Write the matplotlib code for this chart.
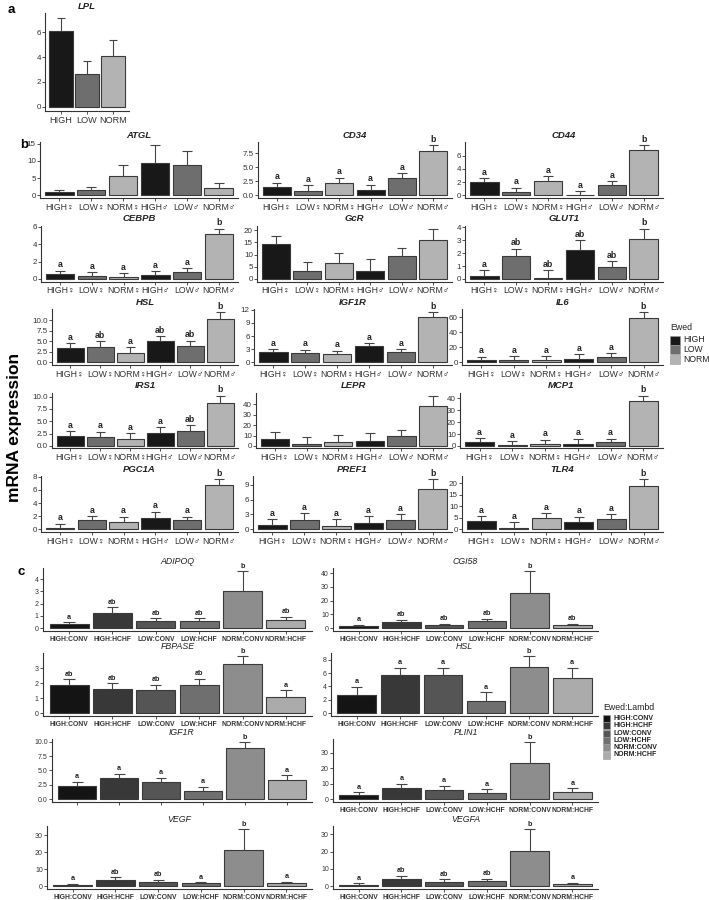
import matplotlib
matplotlib.use("Agg")
import matplotlib.pyplot as plt
from matplotlib.patches import Rectangle

plt.rcParams['font.family'] = ['Liberation Sans', 'DejaVu Sans']

# ---- data ----
# panel a
lpl_groups = ['HIGH', 'LOW', 'NORM']
lpl_mean = [6.1, 2.6, 4.1]
lpl_err = [1.05, 1.1, 1.3]

# panel b
b_groups = ['HIGH♀', 'LOW♀', 'NORM♀', 'HIGH♂', 'LOW♂', 'NORM♂']
b_levels = ['HIGH', 'LOW', 'NORM']
b_genes = ['ATGL', 'CD34', 'CD44', 'CEBPB', 'GcR', 'GLUT1', 'HSL', 'IGF1R',
           'IL6', 'IRS1', 'LEPR', 'MCP1', 'PGC1A', 'PREF1', 'TLR4']
b_mean = [
    [1.15, 1.5, 5.6, 9.5, 8.7, 2.2],
    [1.5, 0.83, 2.26, 1.0, 3.1, 7.85],
    [2.0, 0.57, 2.25, 0.1, 1.57, 6.8],
    [0.58, 0.39, 0.27, 0.5, 0.85, 5.2],
    [14.3, 3.3, 6.7, 3.4, 9.5, 15.9],
    [0.2, 1.77, 0.1, 2.25, 0.93, 3.12],
    [3.5, 3.7, 2.2, 5.0, 3.9, 10.3],
    [2.35, 2.1, 1.97, 3.65, 2.35, 10.3],
    [3.0, 2.7, 3.0, 5.0, 6.7, 58.7],
    [2.08, 1.74, 1.47, 2.6, 3.07, 8.7],
    [6.8, 2.0, 3.5, 4.5, 9.4, 38.7],
    [3.7, 1.1, 2.0, 1.7, 3.2, 37.5],
    [0.26, 1.4, 1.2, 1.8, 1.4, 6.7],
    [0.9, 1.8, 0.7, 1.2, 1.9, 8.2],
    [3.8, 0.7, 4.8, 3.3, 4.5, 18.7],
]
b_err = [
    [0.45, 0.9, 3.1, 5.1, 4.3, 1.45],
    [0.76, 0.97, 0.94, 0.9, 0.9, 1.15],
    [0.6, 0.63, 0.65, 0.58, 0.63, 0.8],
    [0.39, 0.38, 0.39, 0.39, 0.39, 0.6],
    [3.4, 3.5, 4.0, 4.6, 3.3, 4.8],
    [0.46, 0.56, 0.56, 0.75, 0.47, 0.78],
    [1.15, 1.4, 1.45, 1.2, 1.25, 1.7],
    [0.75, 0.8, 0.73, 0.75, 0.75, 1.2],
    [4.5, 5.3, 5.4, 5.7, 5.7, 8.0],
    [0.92, 1.13, 1.13, 1.2, 1.13, 1.5],
    [6.4, 6.7, 7.5, 7.5, 6.1, 9.7],
    [2.9, 3.2, 3.4, 4.3, 2.8, 4.8],
    [0.64, 0.65, 0.75, 0.9, 0.55, 0.9],
    [1.1, 1.4, 1.3, 1.4, 1.1, 1.9],
    [2.1, 2.6, 2.4, 2.2, 2.2, 3.2],
]
b_letters = [
    None,
    ['a', 'a', 'a', 'a', 'a', 'b'],
    ['a', 'a', 'a', 'a', 'a', 'b'],
    ['a', 'a', 'a', 'a', 'a', 'b'],
    None,
    ['a', 'ab', 'ab', 'ab', 'ab', 'b'],
    ['a', 'ab', 'a', 'ab', 'ab', 'b'],
    ['a', 'a', 'a', 'a', 'a', 'b'],
    ['a', 'a', 'a', 'a', 'a', 'b'],
    ['a', 'a', 'a', 'a', 'ab', 'b'],
    None,
    ['a', 'a', 'a', 'a', 'a', 'b'],
    ['a', 'a', 'a', 'a', 'a', 'b'],
    ['a', 'a', 'a', 'a', 'a', 'b'],
    ['a', 'a', 'a', 'a', 'a', 'b'],
]
b_ticks = [
    [0, 5, 10, 15], [0, 2.5, 5, 7.5], [0, 2, 4, 6], [0, 2, 4, 6],
    [0, 5, 10, 15, 20], [0, 1, 2, 3, 4], [0, 2.5, 5, 7.5, 10], [0, 3, 6, 9, 12],
    [0, 20, 40, 60], [0, 2.5, 5, 7.5, 10], [0, 10, 20, 30, 40], [0, 10, 20, 30, 40],
    [0, 2, 4, 6, 8], [0, 3, 6, 9], [0, 5, 10, 15, 20],
]

# panel c
c_groups = ['HIGH:CONV', 'HIGH:HCHF', 'LOW:CONV', 'LOW:HCHF', 'NORM:CONV', 'NORM:HCHF']
c_genes = ['ADIPOQ', 'CGI58', 'FBPASE', 'HSL', 'IGF1R', 'PLIN1', 'VEGF', 'VEGFA']
c_mean = [
    [0.32, 1.24, 0.55, 0.58, 3.03, 0.63],
    [1.6, 4.2, 2.1, 4.9, 25.2, 2.1],
    [1.9, 1.64, 1.53, 1.88, 3.3, 1.08],
    [2.73, 5.65, 5.65, 1.8, 6.95, 5.3],
    [2.27, 3.64, 3.07, 1.42, 8.86, 3.35],
    [2.7, 6.9, 6.1, 4.2, 23.7, 4.6],
    [0.96, 3.4, 2.7, 1.7, 21.6, 1.7],
    [0.93, 4.3, 2.6, 2.8, 20.3, 1.3],
]
c_err = [
    [0.15, 0.46, 0.24, 0.21, 1.6, 0.32],
    [1.0, 1.9, 1.2, 1.9, 16.0, 1.0],
    [0.37, 0.36, 0.35, 0.41, 0.48, 0.43],
    [1.2, 1.15, 1.15, 1.3, 1.55, 1.5],
    [0.8, 0.79, 0.68, 0.78, 1.04, 0.85],
    [1.7, 3.2, 2.7, 2.1, 13.0, 2.3],
    [0.34, 1.8, 1.1, 0.6, 12.0, 0.8],
    [0.77, 1.8, 1.5, 1.5, 12.5, 0.7],
]
c_letters = [
    ['a', 'ab', 'ab', 'ab', 'b', 'ab'],
    ['a', 'ab', 'ab', 'ab', 'b', 'ab'],
    ['ab', 'ab', 'ab', 'ab', 'b', 'a'],
    ['a', 'a', 'a', 'a', 'b', 'a'],
    ['a', 'a', 'a', 'a', 'b', 'a'],
    ['a', 'a', 'a', 'a', 'b', 'a'],
    ['a', 'ab', 'ab', 'a', 'b', 'a'],
    ['a', 'ab', 'ab', 'ab', 'b', 'a'],
]
c_ticks = [
    [0, 1, 2, 3, 4], [0, 10, 20, 30, 40], [0, 1, 2, 3], [0, 2, 4, 6, 8],
    [0, 2.5, 5, 7.5, 10], [0, 10, 20, 30], [0, 10, 20, 30], [0, 10, 20, 30],
]

# ---- styles ----
lvl_colors = {'HIGH': '#181818', 'LOW': '#6e6e6e', 'NORM': '#b3b3b3'}
c_colors = ['#141414', '#383838', '#555555', '#6f6f6f', '#8d8d8d', '#ababab']
edge = '#3a3a3a'
txt = '#333333'

W, H = 709, 900
fig = plt.figure(figsize=(7.09, 9.0), dpi=100)


def add_ax(x0, y0, x1, y1):
    return fig.add_axes([x0 / W, 1 - y1 / H, (x1 - x0) / W, (y1 - y0) / H])


def bar_panel(ax, labels, mean, err, colors, ticks, letters, title,
              title_fs, title_w, tick_fs, ytick_fs, lab_w, let_fs, cap,
              show_x=True):
    x = list(range(1, len(mean) + 1))
    ax.bar(x, mean, width=0.9, color=colors, edgecolor=edge, linewidth=0.8, zorder=2)
    tops = [m + e for m, e in zip(mean, err)]
    ax.vlines(x, mean, tops, color='#444444', linewidth=0.8, zorder=3)
    ax.hlines(tops, [i - cap for i in x], [i + cap for i in x],
              color='#444444', linewidth=0.8, zorder=3)
    m = max(tops)
    top = max(m * 1.06, ticks[-1] * 1.01)
    ax.set_ylim(-0.05 * m, top)
    ax.set_xlim(0.4, len(mean) + 0.6)
    if letters:
        for xi, t, l in zip(x, tops, letters):
            ax.text(xi, t + 0.025 * top, l, ha='center', va='bottom',
                    fontsize=let_fs, fontweight='bold', color='#222222', clip_on=False)
    ax.set_yticks(ticks)
    if any(t != int(t) for t in ticks):
        ax.set_yticklabels(['%.1f' % t for t in ticks])
    else:
        ax.set_yticklabels([str(int(t)) for t in ticks])
    ax.set_xticks(x)
    if show_x:
        ax.set_xticklabels(labels, fontsize=tick_fs, fontweight=lab_w, color=txt)
    else:
        ax.set_xticklabels([])
    ax.tick_params(axis='y', labelsize=ytick_fs, labelcolor=txt, length=2,
                   width=0.6, color=txt, pad=1)
    ax.tick_params(axis='x', length=2, width=0.6, color=txt, pad=1.5)
    for s in ['top', 'right']:
        ax.spines[s].set_visible(False)
    for s in ['left', 'bottom']:
        ax.spines[s].set_color(txt)
        ax.spines[s].set_linewidth(0.8)
    ax.set_facecolor('none')
    ax.set_title(title, fontsize=title_fs, fontstyle='italic', fontweight=title_w,
                 color='#222222', pad=3)


# ---- panel a ----
ax = add_ax(45, 13, 129, 111)
bar_panel(ax, lpl_groups, lpl_mean, lpl_err, [lvl_colors[g] for g in lpl_groups],
          [0, 2, 4, 6], None, 'LPL', 6.8, 'bold', 6.6, 5.8, 'normal', 6, 0.15)
fig.text(8 / W, 1 - 10 / H, 'a', fontsize=9.5, fontweight='bold', va='center')

# ---- panel b ----
# left spine of each panel (the panels are not aligned in the original)
b_left = [40, 258, 465, 41, 257, 465, 52, 254, 462, 52, 256, 460, 41, 253, 462]
b_right = [238, 452, 663]
b_tops = [142, 225.5, 309, 392.5, 476]
b_colors = [lvl_colors[g] for g in ['HIGH', 'LOW', 'NORM', 'HIGH', 'LOW', 'NORM']]
for i, g in enumerate(b_genes):
    r, c = divmod(i, 3)
    y0 = b_tops[r]
    ax = add_ax(b_left[i], y0, b_right[c], y0 + 56)
    bar_panel(ax, b_groups, b_mean[i], b_err[i], b_colors, b_ticks[i], b_letters[i],
              g, 6.8, 'bold', 6.3, 5.8, 'normal', 6.3, 0.15)
fig.text(20 / W, 1 - 145 / H, 'b', fontsize=9.5, fontweight='bold', va='center')
fig.text(15 / W, 1 - 427 / H, 'mRNA expression', fontsize=12.5, fontweight='bold',
         rotation=90, ha='center', va='center')

# legend b
fig.text(670 / W, 1 - 327 / H, 'Ewed', fontsize=6.3, color='#222222', va='center')
for k, lv in enumerate(b_levels):
    yy = 335.5 + k * 9.5
    fig.patches.append(Rectangle((670 / W, 1 - (yy + 9) / H), 9.5 / W, 9 / H,
                                 transform=fig.transFigure, facecolor=lvl_colors[lv],
                                 edgecolor='#999999', linewidth=0.4))
    fig.text(683 / W, 1 - (yy + 4.5) / H, lv, fontsize=6.2, color='#222222', va='center')

# ---- panel c ----
c_left = [43, 333, 43, 331, 52, 333, 47, 333]
c_right = [312, 598]
c_tops = [568, 653, 739, 826]
for i, g in enumerate(c_genes):
    r, c = divmod(i, 2)
    y0 = c_tops[r]
    ax = add_ax(c_left[i], y0, c_right[c], y0 + 63)
    bar_panel(ax, c_groups, c_mean[i], c_err[i], c_colors, c_ticks[i], c_letters[i],
              g, 6.3, 'normal', 4.9, 5.0, 'bold', 5.2, 0.13,
              show_x=not (r == 2 and c == 0))
fig.text(18 / W, 1 - 572 / H, 'c', fontsize=9.5, fontweight='bold', va='center')

# legend c
fig.text(603 / W, 1 - 708 / H, 'Ewed:Lambd', fontsize=6.3, color='#222222', va='center')
for k, lv in enumerate(c_groups):
    yy = 715 + k * 7.3
    fig.patches.append(Rectangle((603 / W, 1 - (yy + 7) / H), 7 / W, 7 / H,
                                 transform=fig.transFigure, facecolor=c_colors[k],
                                 edgecolor='#999999', linewidth=0.4))
    fig.text(614 / W, 1 - (yy + 3.5) / H, lv, fontsize=5.0, fontweight='bold',
             color='#222222', va='center')

fig.savefig('out.png', dpi=100, facecolor='white')
